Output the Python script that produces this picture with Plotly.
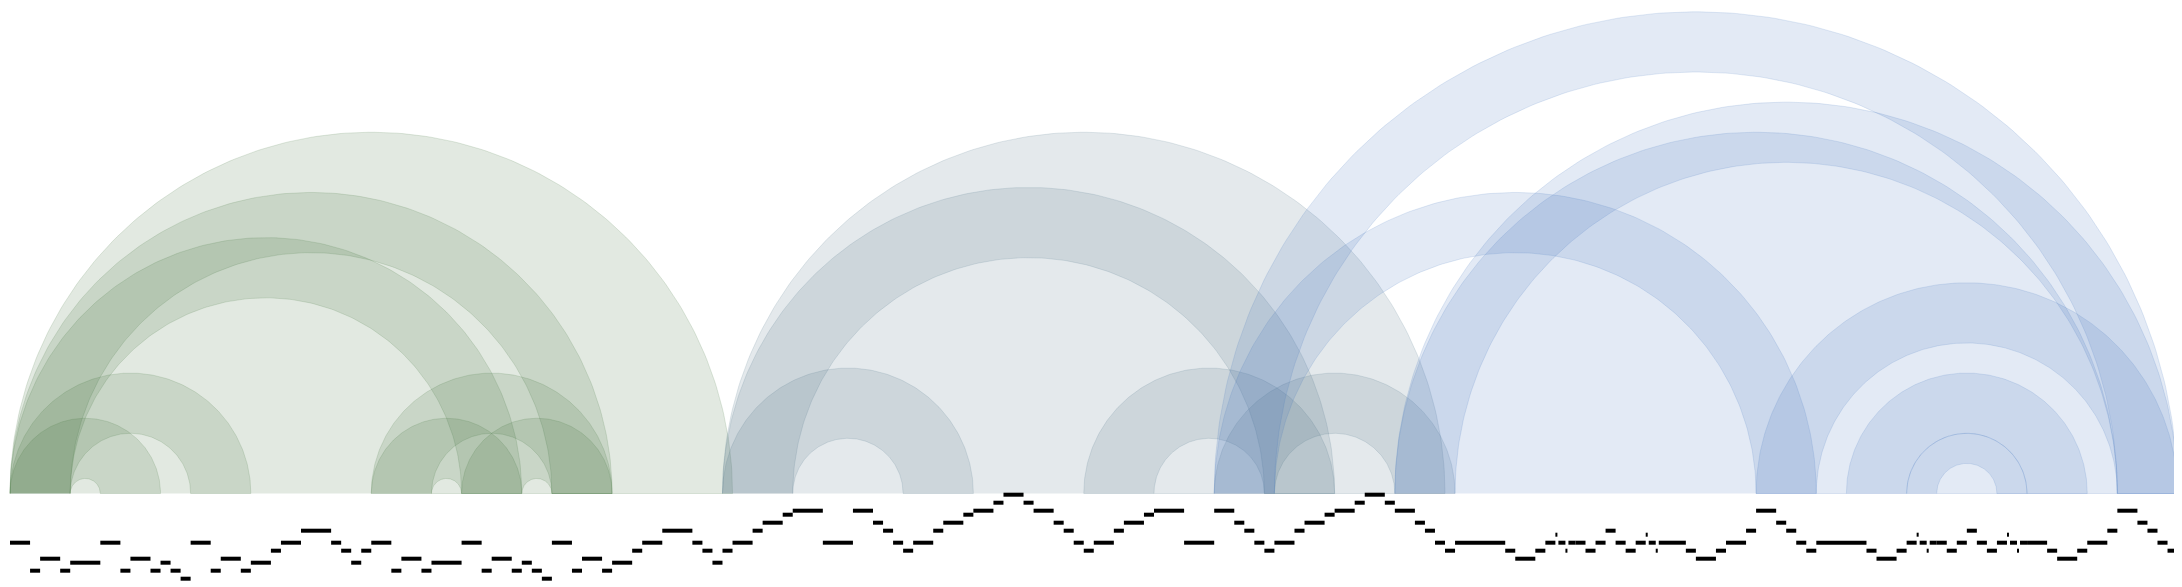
import numpy as np
import plotly.graph_objects as go

# time is counted in beats, pitches are MIDI numbers (60 = middle C)

# each arc joins two occurrences of a repeated passage: [start1, end1] ~ [start2, end2]
arc_start1 = [0, 0, 0, 0, 0, 36, 36, 45,
              71, 71, 71, 107, 120,
              120, 138, 138, 120, 174, 183, 189]
arc_end1 = [36, 6, 6, 6, 6, 42, 42, 51,
            107, 78, 78, 114, 126,
            126, 144, 174, 126, 180, 189, 192]
arc_start2 = [36, 54, 45, 18, 9, 54, 45, 54,
              107, 125, 89, 125, 138,
              210, 210, 174, 174, 210, 201, 198]
arc_end2 = [72, 60, 51, 24, 15, 60, 51, 60,
            143, 132, 96, 132, 144,
            216, 216, 210, 180, 216, 207, 201]
arc_group = ['green'] * 8 + ['slate'] * 5 + ['blue'] * 7

note_start = [0, 2, 3, 5, 6, 9, 11, 12, 14, 15, 16, 17,
              18, 20, 21, 23, 24, 26, 27, 29, 32, 33, 34, 35,
              36, 38, 39, 41, 42, 45, 47, 48, 50, 51, 52, 53,
              54, 56, 57, 59, 60, 62, 63, 65, 68, 69, 70, 71,
              72, 74, 75, 77, 78, 81,
              84, 86, 87, 88, 89, 90, 92, 93, 95, 96, 98, 99, 101, 102, 104, 105, 106, 107,
              108, 110, 111, 113, 114, 117,
              120, 122, 123, 124, 125, 126, 128, 129, 131, 132, 134, 135, 137, 138, 140, 141, 142, 143,
              144, 149, 150, 152, 153,
              154, 154.3, 155, 155.3, 156, 157, 158, 159, 160, 161, 162,
              163, 163.3, 164, 164.3,
              167, 168, 170, 171, 173, 174, 176, 177, 178, 179,
              180, 185, 186, 188, 189,
              190, 190.3, 191, 191.3, 192, 193, 194, 195, 196, 197, 198,
              199, 199.3, 200, 200.3, 201,
              203, 204, 206, 207, 209, 210, 212, 213, 214, 215]
note_len = [2, 1, 2, 1, 3, 2, 1, 2, 1, 1, 1, 1,
            2, 1, 2, 1, 2, 1, 2, 3, 1, 1, 1, 1,
            2, 1, 2, 1, 3, 2, 1, 2, 1, 1, 1, 1,
            2, 1, 2, 1, 2, 1, 2, 3, 1, 1, 1, 1,
            2, 1, 2, 1, 3, 3,
            2, 1, 1, 1, 1, 2, 1, 2, 1, 2, 1, 2, 1, 2, 1, 1, 1, 1,
            2, 1, 2, 1, 3, 3,
            2, 1, 1, 1, 1, 2, 1, 2, 1, 2, 1, 2, 1, 2, 1, 1, 1, 1,
            5, 1, 2, 1, 1,
            0.2, 0.7, 0.2, 0.7, 1, 1, 1, 1, 1, 1, 1,
            0.2, 0.7, 0.2, 2.7,
            1, 2, 1, 2, 1, 2, 1, 1, 1, 1,
            5, 1, 2, 1, 1,
            0.2, 0.7, 0.2, 0.7, 1, 1, 1, 1, 1, 1, 1,
            0.2, 0.7, 0.2, 0.7, 2,
            1, 2, 1, 2, 1, 2, 1, 1, 1, 1]
note_pitch = [69, 62, 65, 62, 64, 69, 62, 65, 62, 64, 62, 60,
              69, 62, 65, 62, 64, 67, 69, 72, 69, 67, 64, 67,
              69, 62, 65, 62, 64, 69, 62, 65, 62, 64, 62, 60,
              69, 62, 65, 62, 64, 67, 69, 72, 69, 67, 64, 67,
              69, 72, 74, 76, 77, 69,
              77, 74, 72, 69, 67, 69, 72, 74, 76, 77, 79, 81, 79, 77, 74, 72, 69, 67,
              69, 72, 74, 76, 77, 69,
              77, 74, 72, 69, 67, 69, 72, 74, 76, 77, 79, 81, 79, 77, 74, 72, 69, 67,
              69, 67, 65, 67, 69,
              71, 69, 67, 69, 69, 67, 69, 72, 69, 67, 69,
              71, 69, 67, 69,
              67, 65, 67, 69, 72, 77, 74, 72, 69, 67,
              69, 67, 65, 67, 69,
              71, 69, 67, 69, 69, 67, 69, 72, 69, 67, 69,
              71, 69, 67, 69, 69,
              67, 65, 67, 69, 72, 77, 74, 72, 69, 67]

GROUP_RGB = {
    'green': (62, 110, 55),
    'slate': (72, 108, 128),
    'blue': (68, 115, 188),
}
FILL_ALPHA = 0.15
LINE_ALPHA = 0.22

# the page body keeps its 8px margin, so the canvas sits 8px in from the window edge
W, H = 2174, 579
PX_PER_BEAT = 10.035
LEFT_PX = 2              # beat 0, from the canvas left
BASE_PX = 485.5          # baseline of the arcs, from the canvas top
PX_PER_SEMITONE = 4
LOW_NOTE_PX = 570.7      # centre of the lowest row (C4), from the canvas top


def arc_outline(s1, e1, s2, e2, n=200):
    cx = (s1 + e2) / 2
    r_out = (e2 - s1) / 2
    r_in = (s2 - e1) / 2
    th = np.linspace(np.pi, 0, n)
    xs = np.concatenate([cx + r_out * np.cos(th), cx + r_in * np.cos(th[::-1])])
    ys = np.concatenate([r_out * np.sin(th), r_in * np.sin(th[::-1])])
    return xs, ys


fig = go.Figure()

for s1, e1, s2, e2, g in zip(arc_start1, arc_end1, arc_start2, arc_end2, arc_group):
    xs, ys = arc_outline(s1, e1, s2, e2)
    r, gr, b = GROUP_RGB[g]
    fig.add_trace(go.Scatter(
        x=xs, y=ys,
        mode='lines',
        fill='toself',
        fillcolor=f'rgba({r},{gr},{b},{FILL_ALPHA})',
        line=dict(color=f'rgba({r},{gr},{b},{LINE_ALPHA})', width=0.7),
        hoverinfo='skip',
    ))

fig.add_trace(go.Bar(
    x=note_len,
    base=note_start,
    y=note_pitch,
    orientation='h',
    width=1.0,
    marker=dict(color='black', line=dict(width=0)),
    yaxis='y2',
    hoverinfo='skip',
))

x_lo = -LEFT_PX / PX_PER_BEAT
x_hi = (W - LEFT_PX) / PX_PER_BEAT
y_lo = -(H - BASE_PX) / PX_PER_BEAT
y_hi = BASE_PX / PX_PER_BEAT
p_lo = 60 - (H - LOW_NOTE_PX) / PX_PER_SEMITONE
p_hi = p_lo + H / PX_PER_SEMITONE

fig.update_layout(
    width=W,
    height=H,
    margin=dict(l=0, r=0, t=0, b=0),
    paper_bgcolor='white',
    plot_bgcolor='white',
    showlegend=False,
    barmode='overlay',
    xaxis=dict(range=[x_lo, x_hi], visible=False, fixedrange=True),
    yaxis=dict(range=[y_lo, y_hi], visible=False, fixedrange=True),
    yaxis2=dict(range=[p_lo, p_hi], visible=False, overlaying='y', fixedrange=True),
)

fig.write_html("out.html")
